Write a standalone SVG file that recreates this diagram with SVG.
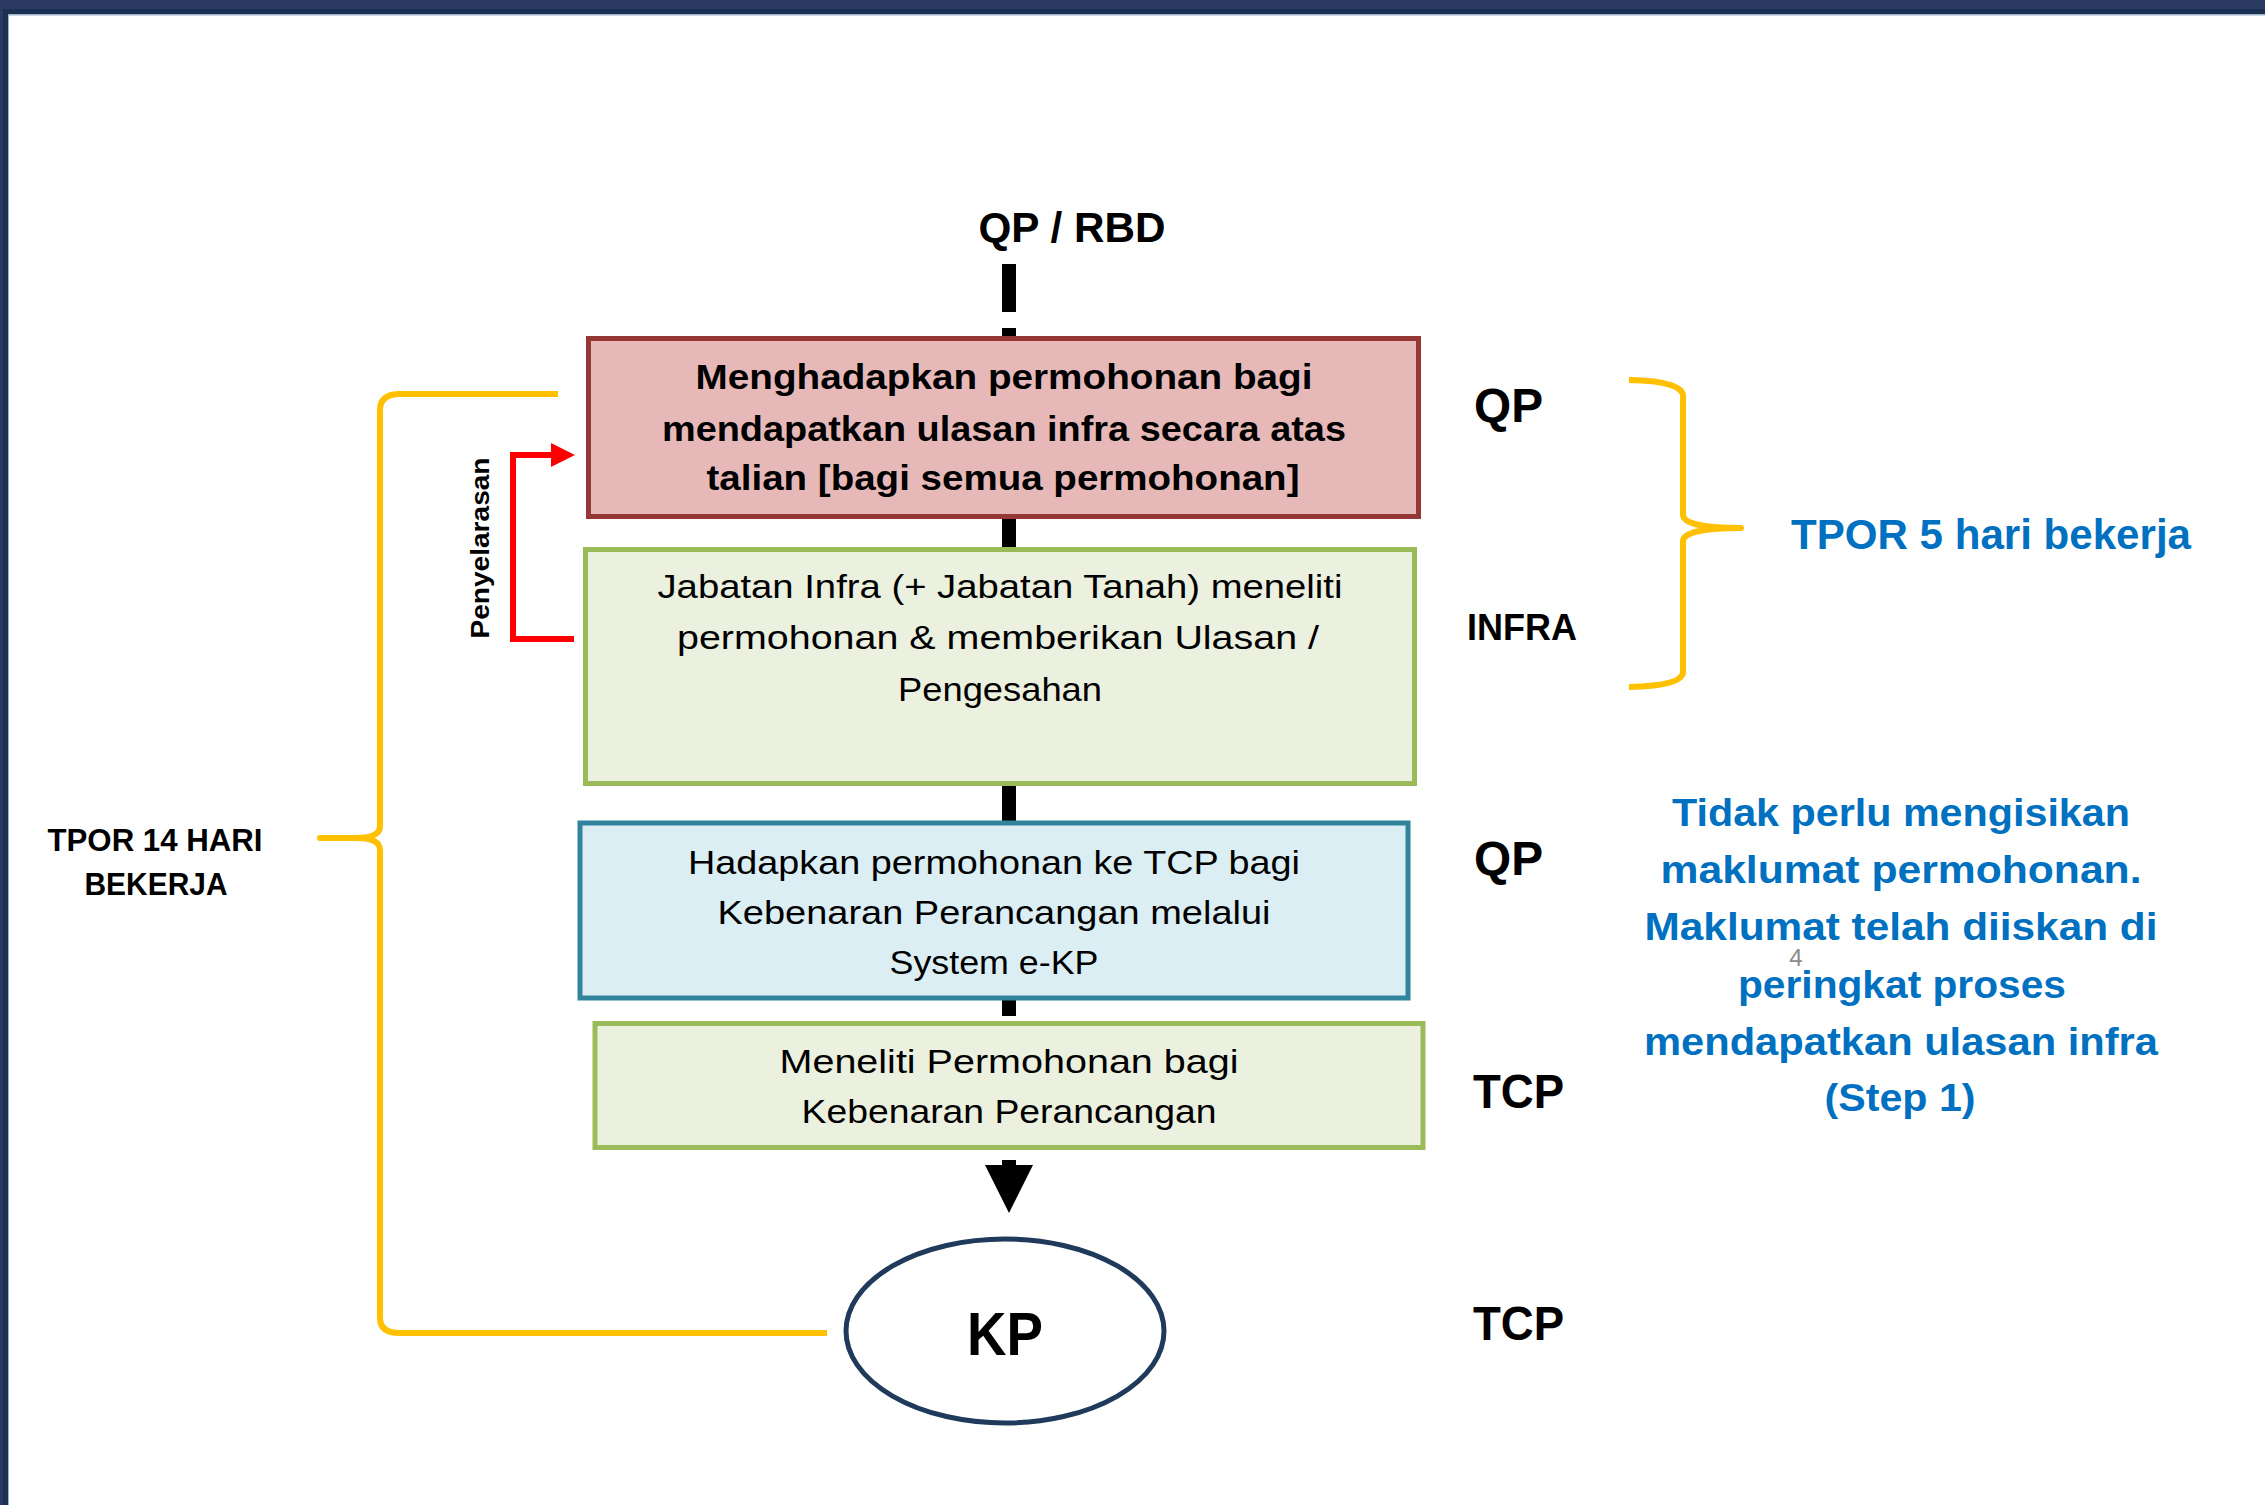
<svg xmlns="http://www.w3.org/2000/svg" width="2265" height="1505" viewBox="0 0 2265 1505">
<style>
  text { font-family: "Liberation Sans", Arial, sans-serif; }
  .box { stroke-width: 5; }
  .bt { font-size: 35px; font-weight: bold; fill: #000; text-anchor: middle; }
  .rt { font-size: 34px; fill: #000; text-anchor: middle; }
  .lbl { font-size: 48px; font-weight: bold; fill: #000; }
  .blue { font-size: 39px; font-weight: bold; fill: #0070C0; text-anchor: middle; }
  .brace { fill: none; stroke: #FFC000; stroke-width: 6; stroke-linecap: butt; stroke-linejoin: round; }
  .conn { fill: #000; }
</style>
<defs>
  <marker id="redArrow" markerUnits="userSpaceOnUse" markerWidth="24" markerHeight="24" viewBox="0 0 24 24" refX="0" refY="12" orient="auto">
    <path d="M0,0 L24,12 L0,24 Z" fill="#FF0000"/>
  </marker>
</defs>

<!-- frame -->
<g id="frame">
  <rect x="0" y="0" width="2265" height="1505" fill="#FFFFFF"/>
  <rect x="0" y="0" width="2265" height="9" fill="#2B3A63"/>
  <rect x="0" y="0" width="3" height="1505" fill="#2B3A63"/>
  <rect x="3" y="9" width="2262" height="5" fill="#1C3152"/>
  <rect x="3" y="9" width="5" height="1496" fill="#1C3152"/>
  <rect x="8" y="14" width="2257" height="1.5" fill="#9DB0C8"/>
  <rect x="8" y="14" width="1" height="1491" fill="#9DB0C8"/>
</g>

<!-- connectors -->
<g id="connectors">
  <line x1="1009" y1="264" x2="1009" y2="339" stroke="#000" stroke-width="14" stroke-dasharray="48 16"/>
  <rect class="conn" x="1002" y="517" width="14" height="32"/>
  <rect class="conn" x="1002" y="784" width="14" height="39"/>
  <rect class="conn" x="1002" y="998" width="14" height="18"/>
  <rect class="conn" x="1002" y="1160" width="14" height="6"/>
  <polygon class="conn" points="985,1165 1033,1165 1009,1213"/>
  <path d="M574 639 H513 V455 H551" fill="none" stroke="#FF0000" stroke-width="6" marker-end="url(#redArrow)"/>
  <path class="brace" d="M558 394 L398 394 Q380 395 380 410 L380 826 Q380 838 356 838 L320 838 L356 838 Q380 838 380 850 L380 1318 Q380 1333 400 1333 L827 1333"/>
  <path class="brace" d="M1629 380 Q1683 381 1683 396 L1683 515 Q1684 528 1741 528 Q1684 528 1683 541 L1683 672 Q1683 686 1629 687"/>
</g>

<g id="label-qp-rbd">
  <text x="1072" y="242" font-size="42" font-weight="bold" text-anchor="middle" textLength="187" lengthAdjust="spacingAndGlyphs">QP / RBD</text>
</g>

<g id="node-menghadapkan">
  <rect class="box" x="588.5" y="338.5" width="830" height="178" fill="#E6B9B8" stroke="#953735"/>
  <text class="bt" x="1004" y="389" textLength="617" lengthAdjust="spacingAndGlyphs">Menghadapkan permohonan bagi</text>
  <text class="bt" x="1004" y="441" textLength="684" lengthAdjust="spacingAndGlyphs">mendapatkan ulasan infra secara atas</text>
  <text class="bt" x="1003" y="490" textLength="593" lengthAdjust="spacingAndGlyphs">talian [bagi semua permohonan]</text>
</g>

<g id="node-jabatan-infra">
  <rect class="box" x="585.5" y="549.5" width="829" height="234" fill="#EBF1DE" stroke="#9BBB59"/>
  <text class="rt" x="1000" y="598" textLength="685" lengthAdjust="spacingAndGlyphs">Jabatan Infra (+ Jabatan Tanah) meneliti</text>
  <text class="rt" x="998" y="649" textLength="642" lengthAdjust="spacingAndGlyphs">permohonan &amp; memberikan Ulasan /</text>
  <text class="rt" x="1000" y="701" textLength="204" lengthAdjust="spacingAndGlyphs">Pengesahan</text>
</g>

<g id="node-hadapkan">
  <rect class="box" x="580" y="823" width="828" height="175" fill="#DBEEF3" stroke="#31849B"/>
  <text class="rt" x="994" y="874" textLength="612" lengthAdjust="spacingAndGlyphs">Hadapkan permohonan ke TCP bagi</text>
  <text class="rt" x="994" y="924" textLength="553" lengthAdjust="spacingAndGlyphs">Kebenaran Perancangan melalui</text>
  <text class="rt" x="994" y="974" textLength="209" lengthAdjust="spacingAndGlyphs">System e-KP</text>
</g>

<g id="node-meneliti">
  <rect class="box" x="595" y="1023.5" width="828" height="124" fill="#EBF1DE" stroke="#9BBB59"/>
  <text class="rt" x="1009" y="1073" textLength="459" lengthAdjust="spacingAndGlyphs">Meneliti Permohonan bagi</text>
  <text class="rt" x="1009" y="1123" textLength="415" lengthAdjust="spacingAndGlyphs">Kebenaran Perancangan</text>
</g>

<g id="node-kp">
  <ellipse cx="1005" cy="1331" rx="159" ry="92" fill="#FFFFFF" stroke="#1F3A5A" stroke-width="5"/>
  <text x="1005" y="1355" font-size="62" font-weight="bold" text-anchor="middle" textLength="76" lengthAdjust="spacingAndGlyphs">KP</text>
</g>

<g id="label-penyelarasan">
  <text transform="translate(489,548) rotate(-90)" font-size="26" font-weight="bold" text-anchor="middle" textLength="181" lengthAdjust="spacingAndGlyphs">Penyelarasan</text>
</g>

<g id="label-tpor14">
  <text x="155" y="851" font-size="31" font-weight="bold" text-anchor="middle" textLength="215" lengthAdjust="spacingAndGlyphs">TPOR 14 HARI</text>
  <text x="156" y="895" font-size="31" font-weight="bold" text-anchor="middle" textLength="143" lengthAdjust="spacingAndGlyphs">BEKERJA</text>
</g>

<g id="roles">
  <text class="lbl" x="1474" y="422" textLength="69" lengthAdjust="spacingAndGlyphs">QP</text>
  <text x="1467" y="640" font-size="37" font-weight="bold" textLength="110" lengthAdjust="spacingAndGlyphs">INFRA</text>
  <text class="lbl" x="1474" y="875" textLength="69" lengthAdjust="spacingAndGlyphs">QP</text>
  <text class="lbl" x="1473" y="1108" textLength="91" lengthAdjust="spacingAndGlyphs">TCP</text>
  <text class="lbl" x="1473" y="1340" textLength="91" lengthAdjust="spacingAndGlyphs">TCP</text>
</g>

<g id="label-tpor5">
  <text x="1791" y="549" font-size="42" font-weight="bold" fill="#0070C0" textLength="400" lengthAdjust="spacingAndGlyphs">TPOR 5 hari bekerja</text>
</g>

<g id="note">
  <text class="blue" x="1901" y="826" textLength="458" lengthAdjust="spacingAndGlyphs">Tidak perlu mengisikan</text>
  <text class="blue" x="1901" y="883" textLength="481" lengthAdjust="spacingAndGlyphs">maklumat permohonan.</text>
  <text class="blue" x="1901" y="940" textLength="513" lengthAdjust="spacingAndGlyphs">Maklumat telah diiskan di</text>
  <text class="blue" x="1902" y="998" textLength="328" lengthAdjust="spacingAndGlyphs">peringkat proses</text>
  <text class="blue" x="1901" y="1055" textLength="514" lengthAdjust="spacingAndGlyphs">mendapatkan ulasan infra</text>
  <text class="blue" x="1900" y="1111" textLength="151" lengthAdjust="spacingAndGlyphs">(Step 1)</text>
</g>

<g id="page-number">
  <text x="1796" y="966" font-size="24" fill="#8C8C8C" text-anchor="middle">4</text>
</g>
</svg>
